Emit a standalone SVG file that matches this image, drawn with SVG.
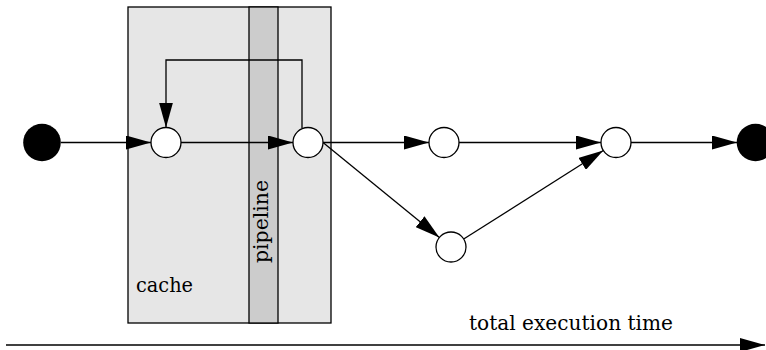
<svg xmlns="http://www.w3.org/2000/svg" width="766" height="350" viewBox="0 0 766 350">
<defs>
<marker id="ah" markerWidth="25" markerHeight="14" refX="25" refY="7" orient="auto" markerUnits="userSpaceOnUse">
<path d="M0,0 L25,7 L0,14 Z" fill="#000"/>
</marker>
</defs>
<style>
.lbl{font-family:"DejaVu Serif","Liberation Serif",serif;font-size:20px;fill:#000}
.node{fill:#fff;stroke:#000;stroke-width:1.3}
.term{fill:#000;stroke:none}
.edge{fill:none;stroke:#000;stroke-width:1.3;marker-end:url(#ah)}
</style>
<rect width="766" height="350" fill="#fff"/>
<g id="cache">
<rect x="128" y="7" width="203" height="316" fill="#e6e6e6" stroke="#000" stroke-width="1.3"/>
<text class="lbl" x="136" y="292" textLength="57" lengthAdjust="spacingAndGlyphs">cache</text>
</g>
<g id="pipeline">
<rect x="249" y="7" width="29" height="316" fill="#cccccc" stroke="#000" stroke-width="1.3"/>
<text class="lbl" transform="translate(268,263) rotate(-90)" textLength="83" lengthAdjust="spacingAndGlyphs">pipeline</text>
</g>
<g id="connectors">
<line class="edge" x1="61" y1="142.5" x2="151" y2="142.5"/>
<line class="edge" x1="181" y1="142.5" x2="293" y2="142.5"/>
<polyline class="edge" points="302,128 302,60 166,60 166,127.5"/>
<line class="edge" x1="323" y1="142.5" x2="429" y2="142.5"/>
<line class="edge" x1="323" y1="142.5" x2="439.4" y2="237.5"/>
<line class="edge" x1="459" y1="142.5" x2="601" y2="142.5"/>
<line class="edge" x1="463.7" y1="239" x2="603.3" y2="150.5"/>
<line class="edge" x1="631" y1="142.5" x2="737" y2="142.5"/>
<line class="edge" x1="6" y1="345" x2="765" y2="345"/>
</g>
<g id="start"><circle class="term" cx="42" cy="142.5" r="18.8"/></g>
<g id="n1"><circle class="node" cx="166" cy="142.5" r="15"/></g>
<g id="n2"><circle class="node" cx="308" cy="142.5" r="15"/></g>
<g id="n3"><circle class="node" cx="444" cy="142.5" r="15"/></g>
<g id="n4"><circle class="node" cx="451" cy="247" r="15"/></g>
<g id="n5"><circle class="node" cx="616" cy="142.5" r="15"/></g>
<g id="end"><circle class="term" cx="755.5" cy="142.5" r="18.8"/></g>
<g id="time-label">
<text class="lbl" x="469" y="330" textLength="204" lengthAdjust="spacingAndGlyphs">total execution time</text>
</g>
</svg>
